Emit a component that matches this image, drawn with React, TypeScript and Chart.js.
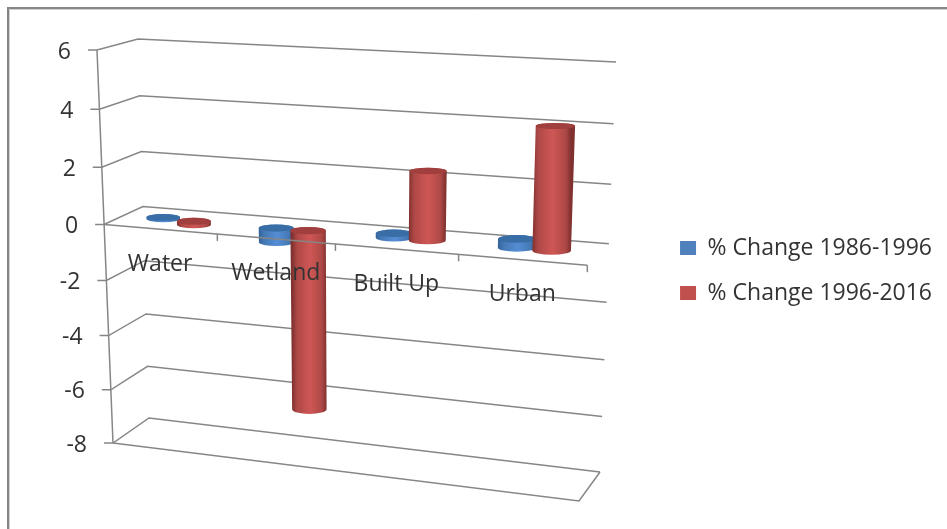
import { useEffect, useRef } from "react";
import { Chart, registerables } from "chart.js";

Chart.register(...registerables);

const categories = ["Water", "Wetland", "Built Up", "Urban"];
const change1986to1996 = [0.05, -0.5, 0.15, 0.3];
const change1996to2016 = [-0.12, -6.4, 2.35, 4.1];
const seriesNames = ["% Change 1986-1996", "% Change 1996-2016"];

const FONT = '"Open Sans", sans-serif';
const LINE = "#868686";
const TEXT = "#333333";

type Pt = { x: number; y: number };

// Maps the unit square onto a quadrilateral, giving the box its perspective.
function quadMap(p0: number[], p1: number[], p2: number[], p3: number[]) {
  const dx1 = p1[0] - p2[0], dx2 = p3[0] - p2[0], sx = p0[0] - p1[0] + p2[0] - p3[0];
  const dy1 = p1[1] - p2[1], dy2 = p3[1] - p2[1], sy = p0[1] - p1[1] + p2[1] - p3[1];
  const det = dx1 * dy2 - dx2 * dy1;
  const g = (sx * dy2 - dx2 * sy) / det;
  const h = (dx1 * sy - sx * dy1) / det;
  const a = p1[0] - p0[0] + g * p1[0], b = p3[0] - p0[0] + h * p3[0], c = p0[0];
  const d = p1[1] - p0[1] + g * p1[1], e = p3[1] - p0[1] + h * p3[1], f = p0[1];
  return (u: number, t: number): Pt => {
    const w = g * u + h * t + 1;
    return { x: (a * u + b * t + c) / w, y: (d * u + e * t + f) / w };
  };
}

const frontPlane = quadMap([97, 50], [594, 76], [579, 501], [113, 443]);
const backPlane = quadMap([138, 39], [616, 62], [600, 472], [149, 418]);

// u: along the categories, t: down the value range, d: 0 at the front, 1 at the back.
function project(u: number, t: number, d: number): Pt {
  const f = frontPlane(u, t);
  const b = backPlane(u, t);
  return { x: f.x + (b.x - f.x) * d, y: f.y + (b.y - f.y) * d };
}

function line(ctx: CanvasRenderingContext2D, pts: Pt[]) {
  ctx.beginPath();
  pts.forEach((p, i) => (i ? ctx.lineTo(p.x, p.y) : ctx.moveTo(p.x, p.y)));
  ctx.stroke();
}

const shades = [
  { dark: "#33629a", soft: "#4478b4", mid: "#558ed5", cap: "#386da6" },
  { dark: "#80312f", soft: "#ad4846", mid: "#cf5755", cap: "#a03f3d" },
];

function drawCylinder(ctx: CanvasRenderingContext2D, chart: any, el: any, shade: (typeof shades)[0]) {
  const { left, right, top, bottom } = chart.chartArea;
  const toU = (x: number) => (x - left) / (right - left);
  const toT = (y: number) => (y - top) / (bottom - top);
  const u = toU(el.x);
  const halfU = (el.width / (right - left) / 2) * 1.1;
  const disc = (t: number) => {
    const c = project(u, t, 0.5);
    const rx = project(u + halfU, t, 0.5).x - c.x;
    const ry = Math.abs(project(u, t, 0.31).y - project(u, t, 0.69).y) / 2;
    return { x: c.x, y: c.y, rx, ry };
  };
  const a = disc(toT(el.y));
  const b = disc(toT(el.base));
  const upper = a.y < b.y ? a : b;
  const lower = a.y < b.y ? b : a;

  const grad = ctx.createLinearGradient(lower.x - lower.rx, 0, lower.x + lower.rx, 0);
  grad.addColorStop(0, shade.dark);
  grad.addColorStop(0.14, shade.soft);
  grad.addColorStop(0.52, shade.mid);
  grad.addColorStop(0.86, shade.soft);
  grad.addColorStop(1, shade.dark);

  ctx.beginPath();
  ctx.moveTo(upper.x - upper.rx, upper.y);
  ctx.lineTo(lower.x - lower.rx, lower.y);
  ctx.ellipse(lower.x, lower.y, lower.rx, lower.ry, 0, Math.PI, 0, true);
  ctx.lineTo(upper.x + upper.rx, upper.y);
  ctx.ellipse(upper.x, upper.y, upper.rx, upper.ry, 0, 0, Math.PI, true);
  ctx.closePath();
  ctx.fillStyle = grad;
  ctx.fill();

  ctx.beginPath();
  ctx.ellipse(upper.x, upper.y, upper.rx, upper.ry, 0, 0, Math.PI * 2);
  ctx.fillStyle = shade.cap;
  ctx.fill();
}

const box3d = {
  id: "box3d",
  beforeDraw(chart: any) {
    const { ctx, chartArea } = chart;
    const y = chart.scales.y;
    const tOf = (v: number) => (y.getPixelForValue(v) - chartArea.top) / (chartArea.bottom - chartArea.top);
    ctx.save();

    // Outer frame of the chart object
    ctx.strokeStyle = "#d0d0d0";
    ctx.lineWidth = 1;
    line(ctx, [{ x: 9.5, y: 529 }, { x: 9.5, y: 9.5 }, { x: 947, y: 9.5 }]);
    ctx.strokeStyle = LINE;
    ctx.lineWidth = 2;
    line(ctx, [{ x: 8, y: 529 }, { x: 8, y: 8 }, { x: 947, y: 8 }]);

    ctx.strokeStyle = LINE;
    ctx.lineWidth = 1.5;
    // Floor outline
    const tBottom = tOf(y.min);
    line(ctx, [project(0, tBottom, 0), project(1, tBottom, 0), project(1, tBottom, 1)]);
    // Value axis
    line(ctx, [project(0, 0, 0), project(0, 1, 0)]);

    ctx.fillStyle = TEXT;
    ctx.font = `23px ${FONT}`;
    ctx.textAlign = "right";
    ctx.textBaseline = "middle";
    y.ticks.forEach((tick: any) => {
      const t = tOf(tick.value);
      const front = project(0, t, 0);
      // Gridline: side wall, then back wall
      line(ctx, [{ x: front.x - 9, y: front.y }, front, project(0, t, 1), project(1, t, 1)]);
      ctx.fillText(tick.label, front.x - 26, front.y + 2);
    });
    ctx.restore();
  },
  // The bars are painted together after this hook, as cylinders.
  beforeDatasetDraw() {
    return false;
  },
  afterDatasetsDraw(chart: any) {
    const { ctx, chartArea } = chart;
    const { x, y } = chart.scales;
    ctx.save();
    chart.data.datasets.forEach((_: unknown, i: number) => {
      chart.getDatasetMeta(i).data.forEach((el: any) => drawCylinder(ctx, chart, el, shades[i]));
    });

    // Category axis along the front of the zero plane
    const width = chartArea.right - chartArea.left;
    const t0 = (y.getPixelForValue(0) - chartArea.top) / (chartArea.bottom - chartArea.top);
    ctx.strokeStyle = LINE;
    ctx.lineWidth = 1.5;
    line(ctx, [project(0, t0, 0), project(1, t0, 0)]);
    ctx.fillStyle = TEXT;
    ctx.font = `23px ${FONT}`;
    ctx.textAlign = "center";
    ctx.textBaseline = "middle";
    categories.forEach((_, i) => {
      const uEnd = (i + 1) / categories.length;
      const end = project(uEnd, t0, 0);
      line(ctx, [end, { x: end.x, y: end.y + 7 }]);
      const u = (x.getPixelForValue(i) - chartArea.left) / width;
      const p = project(u, t0, 0);
      ctx.fillText(x.getLabelForValue(i), p.x, p.y + 35);
    });
    ctx.restore();
  },
};

export default function App() {
  const ref = useRef<HTMLCanvasElement>(null);

  useEffect(() => {
    const chart = new Chart(ref.current as HTMLCanvasElement, {
      type: "bar",
      data: {
        labels: categories,
        datasets: [
          { label: seriesNames[0], data: change1986to1996, backgroundColor: "#4F81BD", clip: false },
          { label: seriesNames[1], data: change1996to2016, backgroundColor: "#C0504D", clip: false },
        ],
      } as any,
      options: {
        responsive: false,
        animation: false,
        layout: { padding: { top: 12, right: 5, left: 100, bottom: 0 } },
        datasets: { bar: { categoryPercentage: 0.55, barPercentage: 1 } },
        scales: {
          x: { display: false },
          y: { display: false, min: -8, max: 6, ticks: { stepSize: 2 } },
        },
        plugins: {
          tooltip: { enabled: false },
          legend: {
            position: "right",
            labels: {
              boxWidth: 16,
              boxHeight: 14,
              padding: 22,
              color: TEXT,
              font: { family: FONT, size: 23 },
            },
          },
        },
      } as any,
      plugins: [box3d],
    });
    return () => chart.destroy();
  }, []);

  return (
    <canvas
      ref={ref}
      width={947}
      height={529}
      style={{ position: "fixed", left: 0, top: 0, width: 947, height: 529 }}
    />
  );
}
